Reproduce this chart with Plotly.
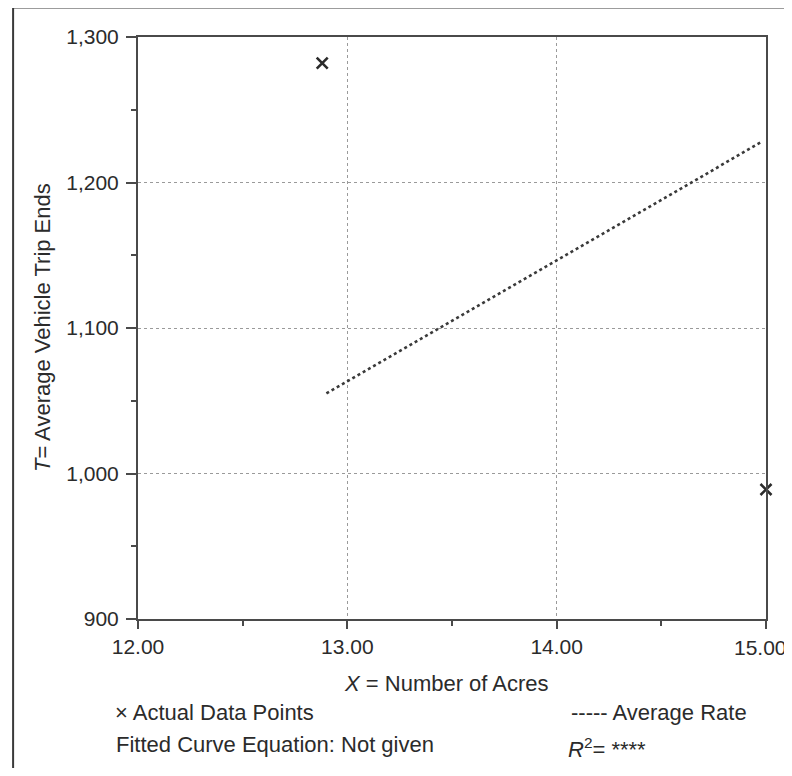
import plotly.graph_objects as go

# Data
acres = [12.88, 15.00]
trip_ends = [1282, 989]
rate_x = [12.90, 14.98]
rate_y = [1055, 1228]

x_ticks = [12, 13, 14, 15]
x_tick_labels = ["12.00", "13.00", "14.00", "15.00"]
y_ticks = [900, 1000, 1100, 1200, 1300]
y_tick_labels = ["900", "1,000", "1,100", "1,200", "1,300"]

OFF = 8  # page body margin
W, H = 792 - OFF, 776 - 2 * OFF
L, R, T = 138 - OFF, 792 - 766.5, 36.5 - OFF
B = H - (619 - OFF)
pw, ph = W - L - R, H - T - B

def px(xpix):
    return (xpix - OFF - L) / pw

def py(ypix):
    return (H - B - (ypix - OFF)) / ph

FONT = "Liberation Sans, Arial, sans-serif"
TXT = "#2b2b2b"
AX = "#4a4a4a"

fig = go.Figure()
fig.add_trace(go.Scatter(
    x=rate_x, y=rate_y, mode="lines",
    line=dict(color="#3a3a3a", width=2.6, dash="dot"),
    showlegend=False, hoverinfo="skip"))
fig.add_trace(go.Scatter(
    x=acres, y=trip_ends, mode="markers",
    marker=dict(symbol="x-thin", size=11, line=dict(color="#2b2b2b", width=2.6)),
    showlegend=False, cliponaxis=False))

fig.update_layout(
    width=W, height=H,
    margin=dict(l=L, r=R, t=T, b=B, pad=0),
    paper_bgcolor="white", plot_bgcolor="white",
    font=dict(family=FONT, color=TXT),
    showlegend=False,
)

# last x label is drawn as an annotation so it stays inside the page edge
fig.update_xaxes(
    range=[12, 15], tickvals=x_ticks, ticktext=x_tick_labels[:-1] + [""],
    showline=True, mirror=True, linecolor=AX, linewidth=2,
    ticks="outside", ticklen=8, tickwidth=2, tickcolor=AX,
    tickfont=dict(size=21, color=TXT, family=FONT),
    showgrid=True, gridcolor="#9a9a9a", gridwidth=1, griddash="dot",
    zeroline=False,
    minor=dict(dtick=0.5, tick0=12, ticks="outside", ticklen=5, tickwidth=2,
               tickcolor=AX, showgrid=False),
)
fig.update_yaxes(
    range=[900, 1300], tickvals=y_ticks, ticktext=y_tick_labels,
    showline=True, mirror=True, linecolor=AX, linewidth=2,
    ticks="outside", ticklen=10, tickwidth=2, tickcolor=AX,
    tickfont=dict(size=21, color=TXT, family=FONT),
    showgrid=True, gridcolor="#9a9a9a", gridwidth=1, griddash="dot",
    zeroline=False, ticklabelstandoff=3,
    minor=dict(dtick=50, tick0=900, ticks="outside", ticklen=5, tickwidth=2,
               tickcolor=AX, showgrid=False),
)

fig.add_annotation(text=x_tick_labels[-1], x=px(790), y=py(648),
                   xref="paper", yref="paper", xanchor="right", yanchor="middle",
                   showarrow=False, font=dict(size=21, color=TXT, family=FONT))

# outer frame: only its left and top sides fall inside the picture
fig.add_shape(type="line", xref="paper", yref="paper",
              x0=px(13), x1=px(13), y0=py(800), y1=py(7),
              line=dict(color="#3a3a3a", width=2), layer="below")
fig.add_shape(type="line", xref="paper", yref="paper",
              x0=px(13), x1=px(800), y0=py(7), y1=py(7),
              line=dict(color="#3a3a3a", width=2), layer="below")

ann = [
    dict(text="<i>X</i> = Number of Acres", x=px(447), y=py(684), size=22, xanchor="center"),
    dict(text="× Actual Data Points", x=px(113), y=py(713), size=22, xanchor="left"),
    dict(text="Fitted Curve Equation: Not given", x=px(114), y=py(745), size=22, xanchor="left"),
    dict(text="----- Average Rate", x=px(569), y=py(713), size=22, xanchor="left"),
    dict(text="<i>R</i><sup>2</sup>= ****", x=px(566), y=py(748), size=22, xanchor="left"),
]
for a in ann:
    fig.add_annotation(text=a["text"], x=a["x"], y=a["y"], xref="paper", yref="paper",
                       xanchor=a["xanchor"], yanchor="middle", showarrow=False,
                       font=dict(size=a["size"], color=TXT, family=FONT))

fig.add_annotation(text="<i>T</i>= Average Vehicle Trip Ends", x=px(42), y=0.5,
                   xref="paper", yref="paper", textangle=-90, showarrow=False,
                   xanchor="center", yanchor="middle",
                   font=dict(size=22, color=TXT, family=FONT))

fig.write_html("out.html")
